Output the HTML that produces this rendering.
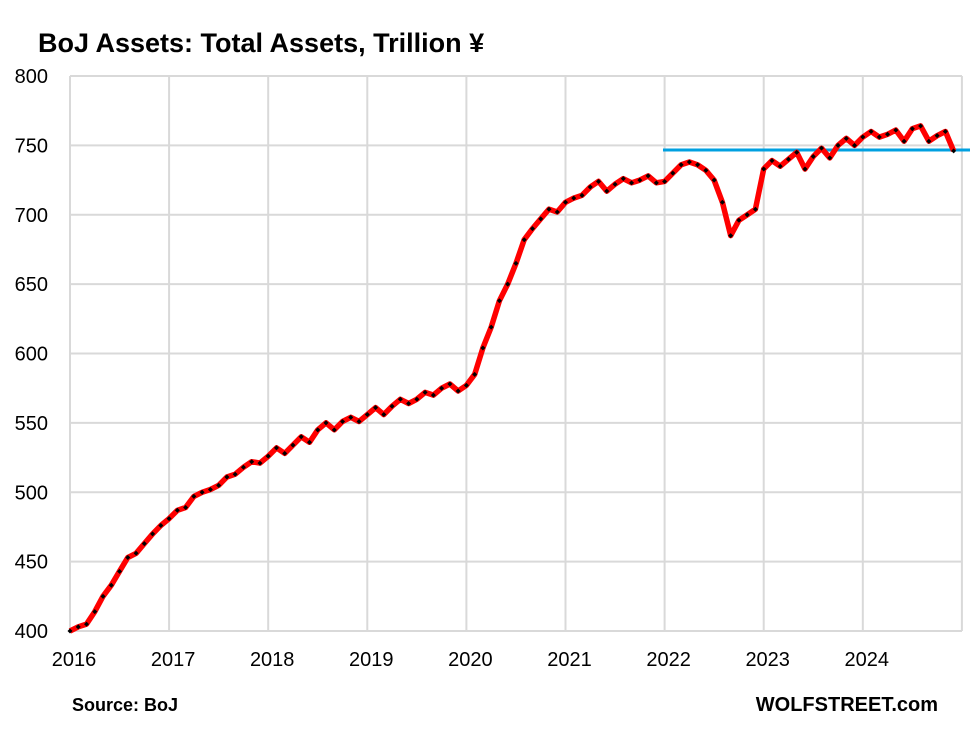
<!DOCTYPE html>
<html><head><meta charset="utf-8"><style>
body{margin:0;background:#fff;}
svg{display:block;font-family:"Liberation Sans",sans-serif;}
</style></head><body>
<svg width="970" height="740" viewBox="0 0 970 740" xmlns="http://www.w3.org/2000/svg">
<rect width="970" height="740" fill="#fff"/>
<text x="38" y="52" font-size="27" font-weight="bold" fill="#000">BoJ Assets: Total Assets, Trillion ¥</text>
<g id="grid" stroke="#d9d9d9" stroke-width="2"></g>
<g id="labels" font-size="20" fill="#000"></g>
<line x1="663" y1="150" x2="970" y2="150" stroke="#00a0e0" stroke-width="3"/>
<polyline id="line" fill="none" stroke="#ff0000" stroke-width="5.5" stroke-linejoin="round"/>
<g id="marks" fill="#000"></g>
<text x="72" y="711" font-size="18" font-weight="bold">Source: BoJ</text>
<text x="938" y="711" font-size="20" font-weight="bold" text-anchor="end">WOLFSTREET.com</text>
</svg>
<script>
var ns="http://www.w3.org/2000/svg";
function Y(v){return 631-(v-400)*1.3875;}
function X(i){return 70+i*99.1/12;}
var g=document.getElementById('grid'),L=document.getElementById('labels');
function el(p,t,a,txt){var e=document.createElementNS(ns,t);for(var k in a)e.setAttribute(k,a[k]);if(txt)e.textContent=txt;p.appendChild(e);return e;}
for(var v=400;v<=800;v+=50){el(g,'line',{x1:70,x2:962,y1:Y(v),y2:Y(v)});el(L,'text',{x:48,y:Y(v)+7,'text-anchor':'end'},v);}
for(var k=0;k<=9;k++){var x=70+k*99.1;el(g,'line',{x1:x,x2:x,y1:Y(800),y2:Y(400)});if(k<9)el(L,'text',{x:x+4,y:666,'text-anchor':'middle'},2016+k);}
var d=[400,403,405,414,425,433,443,453,456,463,470,476,
481,487,489,497,500,502,505,511,513,518,522,521,
526,532,528,534,540,536,545,550,545,551,554,551,
556,561,556,562,567,564,567,572,570,575,578,573,
577,585,604,619,638,650,665,682,690,697,704,702,
709,712,714,720,724,717,722,726,723,725,728,723,
724,730,736,738,736,732,725,709,685,696,700,704,
733,739,735,740,745,733,742,748,741,750,755,750,
756,760,756,758,761,753,762,764,753,757,760,746];
var pts=d.map(function(v,i){return X(i).toFixed(1)+','+Y(v).toFixed(1);});
document.getElementById('line').setAttribute('points',pts.join(' '));
var m=document.getElementById('marks');
d.forEach(function(v,i){var x=X(i),y=Y(v);el(m,'polygon',{points:(x-2.5)+','+y+' '+x+','+(y-2.5)+' '+(x+2.5)+','+y+' '+x+','+(y+2.5)});});
</script>
</body></html>
